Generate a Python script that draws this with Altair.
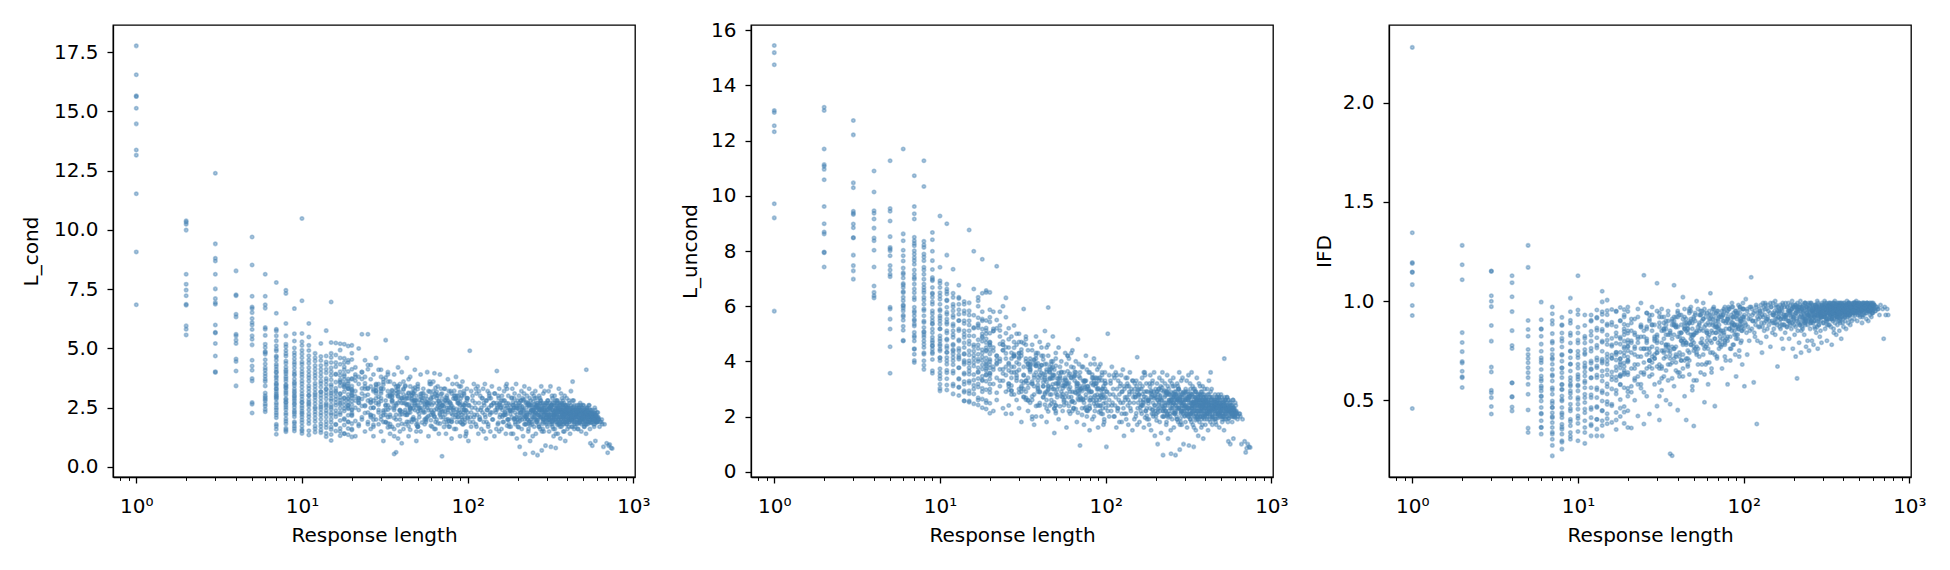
import altair as alt
import pandas as pd

# ---------------- data ----------------
# discrete columns: values at response length 1, 2, ..., 15
LC_COLS = [
    [17.76, 16.54, 15.65, 15.62, 15.13, 14.47, 13.37, 13.15, 11.52, 9.07, 6.84],
    [10.38, 10.32, 10.24, 9.99, 8.13, 7.71, 7.46, 7.22, 6.86, 6.82, 5.95, 5.81, 5.57],
    [12.39, 9.41, 8.80, 8.69, 8.13, 7.51, 7.10, 6.93, 6.86, 5.99, 5.68, 5.65, 5.21, 4.68, 4.02, 3.99],
    [8.27, 7.26, 7.22, 6.44, 6.33, 5.60, 5.53, 5.35, 5.21, 4.55, 4.45, 4.05, 3.42],
    [9.70, 8.52, 7.20, 6.75, 6.68, 6.51, 6.26, 6.09, 5.99, 5.80, 5.53, 5.39, 5.15, 4.50, 4.26, 4.08, 3.73, 3.63, 2.72, 2.65, 2.28],
    [8.13, 7.20, 6.84, 6.70, 5.88, 5.81, 5.55, 5.18, 4.83, 4.76, 4.34, 4.08, 3.94, 3.70, 3.42, 3.00, 2.86, 2.79, 2.43, 2.33],
    [7.78, 6.48, 5.81, 5.74, 5.53, 5.32, 5.11, 4.89, 4.68, 4.50, 4.33, 4.12, 3.98, 3.84, 3.66, 3.49, 3.28, 3.09, 2.92, 2.71, 2.50, 2.29, 2.08, 1.80, 1.59, 1.38, 3.02, 3.31, 2.62, 4.01],
    [7.45, 7.32, 6.05, 5.53, 5.18, 4.91, 4.68, 4.47, 4.21, 4.02, 3.81, 3.62, 3.43, 3.21, 3.04, 2.83, 2.61, 2.42, 2.19, 2.03, 1.82, 1.63, 1.49, 3.32, 2.71, 3.93],
    [6.68, 5.62, 5.31, 5.02, 4.71, 4.42, 4.18, 3.92, 3.71, 3.52, 3.29, 3.12, 2.88, 2.69, 2.51, 2.31, 2.12, 1.91, 1.72, 1.52],
    [10.48, 7.01, 5.63, 5.28, 4.92, 4.61, 4.33, 4.02, 3.79, 3.51, 3.22, 2.98, 2.71, 2.49, 2.22, 1.98, 1.72, 1.52, 1.41],
    [6.05, 5.48, 4.91, 4.52, 4.19, 3.88, 3.62, 3.31, 3.02, 2.73, 2.41, 2.12, 1.83, 1.35],
    [4.61, 4.28, 3.98, 3.72, 3.41, 3.12, 2.81, 2.52, 2.21, 1.92, 1.61],
    [5.21, 4.49, 4.12, 3.81, 3.52, 3.18, 2.91, 2.62, 2.29, 2.01, 1.71, 1.45],
    [5.75, 4.68, 4.31, 3.97, 3.62, 3.28, 3.01, 2.69, 2.38, 2.11, 1.79, 1.28],
    [6.96, 5.25, 4.79, 4.41, 4.02, 3.68, 3.39, 3.11, 2.79, 2.52, 2.19, 1.88, 1.58, 1.12],
]

LU_COLS = [
    [15.45, 15.19, 14.75, 13.09, 13.02, 12.54, 12.32, 9.71, 9.20, 5.82],
    [13.21, 13.09, 11.70, 11.13, 11.07, 10.96, 10.58, 9.61, 8.99, 8.69, 8.62, 7.96, 7.94, 7.42],
    [12.73, 12.21, 10.47, 10.29, 9.44, 9.37, 9.32, 8.98, 8.84, 8.49, 8.47, 7.85, 7.47, 7.28, 6.98],
    [10.90, 10.14, 9.46, 9.37, 9.16, 8.83, 8.47, 8.37, 8.03, 7.42, 6.73, 6.50, 6.38, 6.30],
    [11.27, 9.54, 9.44, 9.09, 8.52, 8.13, 8.07, 8.01, 7.83, 7.47, 7.31, 7.16, 7.07, 5.96, 5.90, 5.53, 5.17, 4.53, 3.57],
    [11.70, 8.62, 8.37, 8.03, 7.83, 7.64, 7.21, 7.16, 6.82, 6.68, 6.53, 6.49, 6.32, 6.20, 6.01, 5.83, 5.67, 5.49, 5.13, 4.74],
    [10.73, 9.61, 9.35, 9.16, 8.50, 8.37, 8.19, 8.01, 7.89, 7.65, 7.52, 7.31, 7.16, 6.98, 6.80, 6.49, 6.32, 5.96, 5.83, 5.65, 5.47, 5.35, 5.05, 4.87, 4.74, 4.44, 4.26, 3.96],
    [11.27, 10.34, 8.35, 8.13, 7.89, 7.65, 7.41, 7.16, 6.98, 6.80, 6.68, 6.49, 6.32, 6.07, 5.90, 5.65, 5.41, 5.23, 5.05, 4.87, 4.74, 4.50, 4.26, 4.02, 3.71],
    [8.67, 8.41, 7.99, 7.65, 7.04, 6.92, 6.68, 6.44, 6.32, 6.07, 5.83, 5.59, 5.47, 5.35, 5.17, 4.87, 4.68, 4.56, 4.44, 4.28, 3.57],
    [9.27, 7.41, 6.92, 6.68, 6.49, 6.25, 6.07, 5.83, 5.65, 5.47, 5.35, 5.17, 4.93, 4.74, 4.56, 4.44, 4.14, 4.02, 3.59, 3.47, 3.17, 2.93],
    [8.99, 7.85, 6.80, 6.62, 6.44, 6.20, 5.96, 5.71, 5.53, 5.35, 5.11, 4.81, 4.56, 4.32, 4.14, 3.90, 3.59, 3.14],
    [7.34, 6.32, 6.07, 5.83, 5.59, 5.35, 5.11, 4.87, 4.62, 4.38, 4.14, 4.02, 3.65, 3.11],
    [6.76, 6.32, 6.07, 5.71, 5.47, 5.11, 4.74, 4.38, 4.14, 3.77, 3.35, 3.05],
    [6.07, 5.83, 5.47, 5.11, 4.87, 4.50, 4.26, 3.90, 3.53, 3.17, 2.93, 2.56],
    [8.76, 5.83, 5.47, 5.11, 4.74, 4.38, 4.02, 3.65, 3.29, 2.93, 2.56],
]

IFD_COLS = [
    [2.28, 1.345, 1.195, 1.19, 1.147, 1.145, 1.083, 0.978, 0.927, 0.458],
    [1.281, 1.183, 1.108, 0.841, 0.791, 0.745, 0.695, 0.688, 0.646, 0.618, 0.613, 0.564],
    [1.152, 1.150, 1.027, 0.999, 0.972, 0.877, 0.798, 0.667, 0.642, 0.550, 0.538, 0.513, 0.468, 0.430],
    [1.128, 1.093, 1.022, 0.947, 0.851, 0.776, 0.761, 0.588, 0.587, 0.518, 0.516, 0.466, 0.446],
    [1.281, 1.170, 0.902, 0.857, 0.823, 0.756, 0.731, 0.711, 0.689, 0.664, 0.639, 0.614, 0.580, 0.530, 0.451, 0.359, 0.337],
    [0.995, 0.906, 0.860, 0.823, 0.747, 0.714, 0.689, 0.655, 0.622, 0.597, 0.572, 0.547, 0.521, 0.496, 0.463, 0.430, 0.396, 0.362, 0.329],
    [0.970, 0.936, 0.884, 0.836, 0.789, 0.756, 0.731, 0.706, 0.681, 0.655, 0.622, 0.597, 0.563, 0.530, 0.496, 0.463, 0.437, 0.412, 0.387, 0.362, 0.329, 0.303, 0.219],
    [0.918, 0.881, 0.839, 0.798, 0.768, 0.731, 0.697, 0.664, 0.639, 0.614, 0.580, 0.555, 0.521, 0.496, 0.463, 0.437, 0.412, 0.379, 0.354, 0.329, 0.295, 0.253],
    [1.015, 0.946, 0.888, 0.839, 0.789, 0.747, 0.714, 0.681, 0.647, 0.614, 0.580, 0.547, 0.513, 0.480, 0.446, 0.404, 0.371, 0.337, 0.303],
    [1.128, 0.955, 0.839, 0.789, 0.747, 0.714, 0.681, 0.630, 0.605, 0.572, 0.547, 0.513, 0.480, 0.455, 0.421, 0.383, 0.295],
    [0.930, 0.823, 0.789, 0.756, 0.731, 0.689, 0.664, 0.622, 0.597, 0.563, 0.530, 0.488, 0.455, 0.396, 0.337, 0.282],
    [0.930, 0.898, 0.848, 0.798, 0.747, 0.697, 0.655, 0.614, 0.563, 0.513, 0.463, 0.412, 0.371, 0.320],
    [0.955, 0.914, 0.864, 0.815, 0.764, 0.714, 0.664, 0.614, 0.563, 0.513, 0.463, 0.404, 0.354, 0.320],
    [1.050, 0.996, 0.946, 0.898, 0.848, 0.798, 0.747, 0.697, 0.647, 0.597, 0.547, 0.496, 0.446, 0.396, 0.320],
    [1.005, 0.931, 0.884, 0.829, 0.781, 0.733, 0.681, 0.628, 0.583, 0.531, 0.479, 0.432, 0.381],
]

# extra points of the crowded columns at response length 6, 7, ..., 20
LC_EXTRA = [
    [2.57, 3.12, 3.61, 4.18, 4.52, 5.04, 2.93, 3.83, 4.87, 2.66],
    [2.41, 2.86, 3.18, 3.53, 3.77, 4.24, 4.63, 4.97, 1.72, 2.19, 3.42, 2.97],
    [1.56, 1.93, 2.28, 2.52, 2.88, 3.13, 3.47, 3.72, 4.09, 4.37, 4.78, 5.07, 2.74, 3.36],
    [1.62, 1.84, 2.23, 2.38, 2.63, 2.79, 3.02, 3.19, 3.43, 3.58, 3.87, 4.03, 4.32, 4.56, 4.83, 2.96],
    [1.58, 1.87, 2.11, 2.37, 2.58, 2.86, 3.08, 3.37, 3.63, 3.91, 4.17, 4.43, 4.77, 5.12, 2.29, 2.74],
    [1.53, 1.97, 2.24, 2.57, 2.84, 3.17, 3.43, 3.76, 4.03, 4.38, 4.69, 5.13, 2.66, 3.01],
    [1.47, 1.73, 2.06, 2.33, 2.67, 2.94, 3.27, 3.53, 3.86, 4.13, 4.47, 4.79, 2.46, 3.04],
    [1.56, 1.83, 2.17, 2.44, 2.76, 3.03, 3.37, 3.63, 3.97, 4.28, 4.66, 2.53, 3.16],
    [1.42, 1.66, 1.93, 2.27, 2.53, 2.87, 3.13, 3.47, 3.73, 4.12, 4.43, 2.61, 3.29],
    [1.37, 1.69, 2.02, 2.28, 2.62, 2.88, 3.22, 3.48, 3.86, 4.18, 4.62, 2.44, 3.02],
    [1.52, 1.78, 2.12, 2.38, 2.72, 2.98, 3.32, 3.58, 3.92, 4.23, 4.72, 5.23, 2.86, 2.24, 3.14],
    [1.32, 1.63, 1.96, 2.21, 2.48, 2.82, 3.08, 3.42, 3.68, 4.02, 4.33, 4.93, 2.64, 2.93, 3.56],
    [1.41, 1.77, 2.04, 2.36, 2.61, 2.92, 3.18, 3.52, 3.83, 4.22, 4.58, 5.18, 2.76, 2.47, 3.36],
    [1.36, 1.62, 1.91, 2.18, 2.46, 2.73, 3.06, 3.33, 3.71, 4.03, 4.41, 2.58, 2.87, 3.52],
    [1.27, 1.56, 1.83, 2.16, 2.43, 2.77, 3.04, 3.41, 3.73, 4.12, 4.53, 5.13, 2.91, 2.62, 3.24],
]

LU_EXTRA = [
    [4.76, 5.27, 5.62, 6.04, 6.77, 7.38, 7.02, 5.93],
    [4.03, 4.46, 4.93, 5.28, 5.77, 6.23, 6.62, 7.04, 7.76, 8.27, 5.52],
    [3.86, 4.31, 4.62, 5.08, 5.46, 5.84, 6.22, 6.58, 7.31, 7.78, 8.22, 4.96],
    [3.66, 4.07, 4.33, 4.76, 5.04, 5.37, 5.73, 6.16, 6.48, 6.97, 7.33, 4.57],
    [3.02, 3.36, 3.73, 4.12, 4.38, 4.82, 5.18, 5.57, 5.88, 6.37, 6.83, 4.62],
    [2.96, 3.37, 3.68, 4.02, 4.33, 4.77, 5.03, 5.42, 5.78, 6.22, 6.53, 4.48],
    [2.82, 3.18, 3.57, 3.88, 4.27, 4.58, 4.97, 5.28, 5.67, 5.98, 6.47, 4.42],
    [2.76, 3.07, 3.38, 3.77, 4.08, 4.47, 4.78, 5.17, 5.48, 5.87, 6.28, 4.22],
    [2.57, 2.88, 3.27, 3.58, 3.97, 4.28, 4.67, 4.98, 5.37, 5.73, 6.17, 4.03],
    [2.52, 2.83, 3.22, 3.53, 3.92, 4.23, 4.62, 4.93, 5.32, 5.68, 6.12, 3.77],
    [2.46, 2.82, 3.13, 3.52, 3.83, 4.22, 4.53, 4.92, 5.23, 5.67, 6.62, 3.96, 3.32, 4.37],
    [2.42, 2.68, 3.07, 3.38, 3.77, 4.08, 4.47, 4.78, 5.22, 5.58, 6.32, 3.62, 4.26, 3.18],
    [2.32, 2.63, 3.02, 3.33, 3.72, 4.03, 4.42, 4.73, 5.17, 5.53, 6.47, 3.87, 3.46, 4.16],
    [2.27, 2.58, 2.97, 3.28, 3.67, 3.98, 4.37, 4.68, 5.12, 5.48, 6.57, 3.52, 4.12, 3.83],
    [2.12, 2.48, 2.87, 3.18, 3.57, 3.88, 4.27, 4.58, 5.02, 5.43, 5.87, 3.76, 3.36, 4.07],
]

IFD_EXTRA = [
    [0.363, 0.434, 0.518, 0.607, 0.702, 0.783, 0.858, 0.562],
    [0.272, 0.338, 0.417, 0.484, 0.553, 0.628, 0.713, 0.797, 0.902, 0.463],
    [0.288, 0.364, 0.428, 0.503, 0.578, 0.662, 0.727, 0.812, 0.877, 0.553],
    [0.318, 0.392, 0.458, 0.534, 0.598, 0.683, 0.748, 0.826, 0.903, 0.572],
    [0.342, 0.408, 0.503, 0.577, 0.662, 0.728, 0.803, 0.868, 0.932, 0.618],
    [0.362, 0.437, 0.512, 0.588, 0.673, 0.738, 0.812, 0.877, 0.642],
    [0.378, 0.453, 0.527, 0.612, 0.687, 0.762, 0.828, 0.903, 0.658],
    [0.403, 0.468, 0.553, 0.627, 0.702, 0.777, 0.853, 0.918, 0.673],
    [0.372, 0.448, 0.538, 0.622, 0.707, 0.792, 0.858, 0.933, 0.688],
    [0.407, 0.493, 0.568, 0.652, 0.717, 0.803, 0.877, 0.952, 0.698],
    [0.388, 0.472, 0.557, 0.642, 0.728, 0.812, 0.893, 0.958, 0.713, 0.772, 0.603],
    [0.352, 0.438, 0.532, 0.617, 0.703, 0.787, 0.872, 0.947, 0.742, 0.668, 0.823],
    [0.418, 0.503, 0.578, 0.663, 0.742, 0.817, 0.902, 0.968, 0.708, 0.783, 0.623],
    [0.383, 0.468, 0.563, 0.638, 0.723, 0.798, 0.883, 0.957, 0.762, 0.688, 0.847],
    [0.362, 0.447, 0.543, 0.628, 0.718, 0.803, 0.878, 0.948, 0.773, 0.693, 0.838],
]

# continuous cloud, part 1: response lengths shared by the three panels
CLOUD_X = [
    16, 16, 16, 16, 17, 17, 17, 17, 17, 18, 18, 18, 18, 18, 19, 19, 19, 19, 19, 20, 20, 20, 20, 20, 21,
    21, 21, 21, 22, 22, 22, 22, 22, 23, 23, 23, 23, 24, 24, 24, 24, 25, 25, 25, 25, 25, 16, 17, 19, 21,
    26, 26, 26, 26, 27, 27, 27, 27, 28, 28, 28, 28, 29, 29, 29, 30, 30, 30, 30, 31, 31, 31, 32, 32, 32,
    33, 33, 33, 34, 34, 34, 35, 35, 35, 36, 36, 36, 37, 37, 37, 38, 38, 38, 39, 39, 40, 40, 40, 27, 33,
    41, 41, 42, 42, 43, 43, 44, 44, 45, 45, 46, 46, 47, 47, 48, 48, 49, 49, 50, 50, 51, 52, 52, 53, 54,
    54, 55, 56, 57, 57, 58, 59, 60, 60, 61, 62, 63, 63, 64, 65, 66, 67, 67, 68, 69, 70, 70, 44, 50, 58,
    71, 72, 73, 73, 74, 75, 76, 76, 77, 78, 79, 80, 80, 81, 82, 83, 84, 85, 85, 86, 87, 88, 89, 90, 90,
    91, 92, 93, 94, 95, 95, 96, 97, 98, 99, 100, 100, 101, 102, 103, 104, 105, 105, 106, 107, 108, 109, 110, 88, 97,
    111, 112, 113, 114, 115, 116, 117, 118, 119, 120, 121, 122, 123, 124, 125, 126, 127, 128, 129, 130,
    131, 132, 133, 134, 135, 136, 137, 138, 139, 140, 142, 144, 145, 146, 148, 150, 151, 152, 154, 155,
    156, 158, 160, 161, 162, 164, 165, 166, 168, 170, 171, 172, 174, 175, 176, 178, 180,
    112, 118, 125, 130, 135, 140, 145, 150, 155, 160, 165, 170, 175,
    181, 182, 184, 185, 186, 188, 189, 190, 192, 193, 194, 195, 196, 198, 199, 200,
    202, 204, 205, 206, 208, 210, 211, 212, 214, 215, 216, 218, 220, 221,
    222, 224, 225, 226, 228, 230, 232, 234, 235, 236, 238, 240, 242, 244, 245,
    246, 248, 250, 252, 254, 255, 256, 258, 260, 262, 264, 265, 266, 268, 270,
    272, 274, 275, 276, 278, 280, 282, 284, 285, 286, 288, 290, 292, 295, 298, 300,
    190, 200, 210, 220, 230, 240, 250, 260, 270, 280, 290, 205, 235, 265,
    301, 303, 305, 306, 308, 310, 312, 314, 315, 316, 318, 320, 322, 324, 325,
    326, 328, 330, 332, 334, 335, 336, 338, 340, 342, 344, 345, 346, 348, 350,
    352, 354, 355, 356, 358, 360, 362, 364, 365, 366, 368, 370, 372, 374, 375,
    376, 378, 380, 382, 384, 385, 386, 388, 390, 392, 394, 395, 396, 398, 400,
    404, 408, 410, 412, 415, 418, 420, 424, 428, 430, 432, 435, 438, 440, 445,
    310, 320, 330, 340, 350, 360, 370, 380, 390, 400, 410, 420, 430, 440, 450,
    452, 455, 458, 460, 462, 465, 468, 470, 472, 475, 478, 480, 485, 488, 490,
    492, 495, 498, 500, 505, 508, 510, 515, 518, 520, 525, 528, 530, 535, 540,
    545, 548, 550, 555, 560, 565, 570, 575, 580, 585, 590, 595, 600, 610, 620,
    460, 480, 500, 520, 540, 560, 580, 600, 470, 530,
    630, 645, 660, 670, 690, 700, 710, 720, 735, 745,
]

LC_CLOUD = [
    3.9, 2.6, 1.8, 4.4, 5.2, 3.1, 2.3, 1.5, 3.6, 4.1, 2.9, 2.0, 3.4, 1.4, 5.1, 3.3, 2.5, 1.9, 4.5, 3.0, 2.2, 4.8, 1.6, 3.7, 2.8,
    4.2, 1.3, 3.2, 3.5, 2.4, 5.0, 1.8, 2.9, 5.6, 3.1, 2.0, 4.0, 2.6, 3.8, 1.5, 4.5, 5.6, 2.3, 3.3, 1.9, 2.8, 3.2, 2.7, 2.9, 3.8,
    3.4, 2.2, 4.3, 1.6, 2.8, 3.9, 1.3, 2.5, 3.1, 2.0, 4.6, 2.7, 1.8, 3.5, 2.4, 2.9, 4.1, 1.5, 3.3, 2.3, 3.7, 1.1, 5.35, 2.6, 1.9,
    3.0, 2.1, 4.0, 2.5, 3.6, 1.4, 2.8, 1.7, 3.2, 0.55, 2.4, 3.9, 2.0, 0.62, 3.1, 4.2, 2.7, 1.2, 3.5, 2.2, 1.0, 2.9, 4.0, 3.2, 2.6,
    2.7, 1.6, 3.4, 2.2, 4.6, 2.9, 1.3, 3.1, 2.5, 3.8, 1.9, 2.8, 3.3, 2.0, 2.4, 4.1, 1.1, 3.0, 2.6, 3.5, 2.1, 3.9, 1.5, 2.8, 2.3,
    3.3, 1.8, 3.0, 2.5, 4.0, 1.3, 3.6, 2.2, 2.9, 1.7, 3.2, 2.4, 3.95, 1.9, 2.7, 3.4, 1.4, 2.6, 3.9, 2.1, 0.45, 2.9, 2.3, 1.7, 2.7,
    2.6, 1.9, 3.3, 2.2, 1.4, 2.9, 3.7, 2.4, 1.7, 2.7, 3.2, 2.0, 1.2, 3.5, 2.5, 1.6, 3.0, 2.3, 3.8, 1.9, 2.8, 2.1, 3.4, 1.3, 2.6,
    2.9, 2.2, 3.6, 1.8, 2.4, 3.1, 2.0, 2.7, 1.5, 3.3, 2.3, 2.9, 1.1, 2.6, 4.9, 2.1, 3.2, 1.7, 2.5, 2.8, 1.9, 3.5, 2.2, 3.0, 2.4,
    2.5, 1.8, 3.1, 2.2, 3.4, 1.4, 2.7, 2.0, 3.0, 2.4, 1.6, 2.9, 2.3, 3.3, 1.9, 2.6, 3.5, 2.1, 1.2, 2.8,
    2.4, 3.2, 1.7, 2.5, 3.0, 2.2, 1.5, 2.9, 2.6, 3.4, 2.0, 2.7, 1.3, 3.1, 2.3, 4.05, 2.5, 1.8, 2.9, 3.3,
    2.1, 2.6, 1.6, 3.0, 2.4, 2.8, 1.9, 3.2, 2.2, 1.4, 2.7, 3.5, 2.0, 2.5, 3.0, 1.7, 2.4,
    3.3, 2.1, 2.7, 1.9, 2.9, 2.3, 3.1, 2.6, 1.5, 2.8, 2.2, 3.4, 2.0,
    2.4, 1.7, 2.9, 2.1, 3.3, 1.4, 2.6, 2.0, 3.1, 2.3, 1.8, 2.7, 3.5, 1.2, 2.2, 2.8,
    1.9, 3.0, 2.4, 0.85, 2.6, 2.1, 3.2, 1.6, 2.5, 2.9, 1.3, 2.2, 3.4, 2.0,
    0.55, 2.7, 1.8, 2.3, 3.0, 2.0, 1.5, 2.6, 3.3, 2.2, 1.1, 2.8, 2.4, 1.9, 3.1,
    2.1, 0.6, 2.5, 1.7, 2.9, 2.3, 3.2, 1.4, 2.6, 2.0, 0.5, 2.7, 2.2, 1.8, 3.0,
    2.4, 1.6, 2.8, 2.1, 3.4, 0.7, 2.5, 1.9, 2.3, 3.1, 1.5, 2.6, 2.0, 0.9, 2.7, 2.2,
    2.5, 2.0, 2.8, 1.8, 2.3, 2.6, 2.1, 2.9, 1.7, 2.4, 2.2, 2.7, 1.9, 2.5,
    2.3, 1.7, 2.8, 2.0, 3.2, 1.5, 2.5, 1.9, 2.2, 3.4, 0.85, 2.6, 2.1, 1.8, 2.9,
    2.4, 2.0, 1.3, 2.7, 2.2, 3.0, 1.6, 2.4, 0.8, 2.1, 2.6, 1.9, 2.3, 2.8, 1.4,
    2.0, 2.5, 3.3, 1.8, 2.2, 2.7, 1.2, 2.4, 2.0, 3.1, 1.7, 2.3, 2.6, 1.9, 2.1,
    2.8, 1.5, 2.2, 2.5, 1.9, 3.0, 2.3, 1.1, 2.6, 2.0, 2.4, 1.8, 2.9, 2.2, 1.6,
    2.5, 2.1, 1.9, 2.7, 1.4, 2.3, 3.2, 2.0, 1.7, 3.6, 2.4, 2.1, 1.9, 2.6, 2.2,
    2.0, 2.6, 2.2, 1.9, 2.4, 2.1, 2.7, 1.8, 2.3, 2.5, 2.0, 2.2, 2.8, 1.6, 2.3,
    2.2, 1.8, 2.5, 2.0, 2.3, 1.6, 2.6, 2.1, 1.9, 2.4, 2.7, 2.0, 1.5, 2.3, 2.1,
    2.5, 1.9, 2.2, 2.6, 1.7, 2.4, 2.0, 2.3, 1.4, 4.1, 2.1, 2.5, 1.8, 2.2, 2.6,
    1.9, 2.3, 1.0, 2.1, 2.4, 0.9, 2.0, 2.2, 1.7, 2.5, 1.1, 2.1, 1.9, 2.3, 2.0,
    2.4, 2.0, 2.2, 1.8, 2.6, 2.1, 2.3, 1.9, 2.5, 2.2,
    1.9, 2.0, 0.85, 1.8, 1.0, 0.6, 0.9, 0.95, 0.8, 0.78,
]

LU_CLOUD = [
    5.2, 4.1, 3.0, 7.99, 6.0, 4.6, 3.6, 2.6, 5.3, 7.7, 4.9, 3.3, 4.3, 2.9, 6.5, 5.0, 3.9, 2.5, 4.4, 6.5, 4.0, 5.6, 3.0, 4.7, 3.7,
    5.8, 2.2, 4.5, 7.45, 3.4, 5.5, 2.6, 4.2, 5.8, 4.0, 3.1, 4.9, 3.3, 6.0, 2.3, 4.6, 6.3, 3.5, 4.1, 2.1, 3.8, 4.6, 4.0, 3.5, 5.1,
    4.5, 3.2, 5.2, 2.4, 3.8, 4.9, 2.1, 3.4, 4.2, 2.8, 5.3, 3.6, 2.6, 4.6, 3.3, 3.9, 5.0, 2.3, 4.3, 3.1, 4.7, 1.8, 5.9, 3.5, 2.7,
    4.0, 2.9, 4.8, 3.4, 4.4, 2.2, 3.7, 2.5, 4.1, 1.9, 3.2, 4.6, 2.8, 1.7, 3.9, 4.9, 3.6, 2.0, 4.3, 3.0, 2.4, 3.8, 4.7, 4.1, 3.3,
    3.4, 2.0, 4.2, 2.7, 5.1, 3.5, 1.8, 3.9, 5.95, 4.6, 2.4, 3.6, 4.0, 2.6, 3.0, 4.9, 1.4, 3.7, 3.2, 4.3, 2.7, 4.5, 1.9, 3.4, 2.9,
    4.0, 2.2, 3.6, 3.1, 4.3, 1.6, 4.2, 2.7, 3.5, 2.1, 3.8, 2.9, 4.4, 2.3, 3.3, 4.0, 1.8, 3.1, 4.8, 2.6, 0.95, 3.4, 2.9, 2.2, 3.3,
    3.0, 2.3, 3.8, 2.6, 1.7, 3.3, 4.2, 2.8, 2.0, 3.1, 3.6, 2.4, 1.5, 3.9, 2.9, 1.9, 3.4, 2.7, 4.1, 2.2, 3.2, 2.5, 3.7, 1.6, 3.0,
    3.3, 2.6, 3.9, 2.1, 2.8, 3.5, 2.3, 3.1, 1.8, 3.6, 2.7, 3.2, 0.9, 2.9, 5.0, 2.4, 3.5, 2.0, 2.8, 3.2, 2.2, 3.8, 2.5, 3.4, 2.8,
    2.8, 2.0, 3.4, 2.4, 3.6, 1.6, 3.0, 2.2, 3.3, 2.6, 1.8, 3.1, 2.5, 3.5, 2.1, 2.9, 3.7, 2.3, 1.3, 3.0,
    2.6, 3.4, 1.9, 2.7, 3.2, 2.4, 1.7, 3.1, 2.8, 3.6, 2.2, 2.9, 1.5, 3.3, 2.5, 3.2, 2.7, 2.0, 3.1, 4.15,
    2.3, 2.8, 1.8, 3.2, 2.6, 3.0, 2.1, 3.4, 2.4, 1.6, 2.9, 3.6, 2.2, 2.7, 3.2, 1.9, 2.6,
    3.5, 2.3, 2.9, 2.1, 3.1, 2.5, 3.3, 2.8, 1.7, 3.0, 2.4, 3.6, 2.2,
    2.6, 1.9, 3.2, 2.3, 3.5, 1.5, 2.9, 2.1, 3.3, 2.5, 2.0, 2.9, 3.6, 1.3, 2.4, 3.0,
    2.1, 3.2, 2.6, 1.0, 2.8, 2.3, 3.4, 1.8, 2.7, 3.1, 1.4, 2.4, 3.6, 2.2,
    0.6, 2.9, 2.0, 2.5, 3.2, 2.2, 1.7, 2.8, 3.5, 2.4, 1.2, 3.0, 2.6, 2.1, 3.3,
    2.3, 0.65, 2.7, 1.9, 3.1, 2.5, 3.4, 1.6, 2.8, 2.2, 0.6, 2.9, 2.4, 2.0, 3.2,
    2.6, 1.8, 3.0, 2.3, 3.6, 0.8, 2.7, 2.1, 2.5, 3.3, 1.7, 2.8, 2.2, 1.0, 2.9, 2.4,
    2.7, 2.2, 3.0, 2.0, 2.5, 2.8, 2.3, 3.1, 1.9, 2.6, 2.4, 2.9, 2.1, 2.7,
    2.4, 1.8, 2.9, 2.1, 3.3, 1.6, 2.6, 2.0, 2.3, 3.5, 0.95, 2.7, 2.2, 1.9, 3.0,
    2.5, 2.1, 3.6, 2.8, 2.3, 3.1, 1.7, 2.5, 0.9, 2.2, 2.7, 2.0, 2.4, 2.9, 1.5,
    2.1, 2.6, 3.4, 1.9, 2.3, 2.8, 1.3, 2.5, 2.1, 3.2, 1.8, 2.4, 2.7, 2.0, 2.2,
    2.9, 1.6, 2.3, 2.6, 2.0, 3.1, 2.4, 1.2, 2.7, 2.1, 2.5, 1.9, 3.0, 2.3, 1.7,
    2.6, 2.2, 2.0, 2.8, 1.5, 2.4, 3.3, 2.1, 1.8, 3.6, 2.5, 2.2, 2.0, 2.7, 2.3,
    2.1, 2.7, 2.3, 2.0, 2.5, 2.2, 2.8, 1.9, 2.4, 2.6, 2.1, 2.3, 2.9, 1.7, 2.4,
    2.3, 1.9, 2.6, 2.1, 2.4, 1.7, 2.7, 2.2, 2.0, 2.5, 2.8, 2.1, 1.6, 2.4, 2.2,
    2.6, 2.0, 2.3, 2.7, 1.8, 2.5, 2.1, 2.4, 1.5, 4.1, 2.2, 2.6, 1.9, 2.3, 2.7,
    2.0, 2.4, 1.1, 2.2, 2.5, 1.0, 2.1, 2.3, 1.8, 2.6, 1.2, 2.2, 2.0, 2.4, 2.1,
    2.5, 2.1, 2.3, 1.9, 2.7, 2.2, 2.4, 2.0, 2.6, 2.3,
    2.0, 2.1, 1.0, 1.9, 1.1, 0.7, 0.85, 1.0, 0.9, 0.88,
]

IFD_CLOUD = [
    0.78, 0.62, 0.48, 0.88, 0.95, 0.74, 0.55, 0.40, 0.84, 0.69, 0.81, 0.58, 0.90, 0.46, 0.92, 0.77, 0.63, 0.44, 0.86, 0.85, 0.70, 0.97, 0.52, 0.75, 0.80,
    0.66, 0.36, 0.89, 0.73, 0.91, 0.60, 0.50, 0.83, 0.96, 0.68, 0.42, 0.79, 0.87, 0.72, 0.56, 0.99, 1.13, 0.64, 0.82, 0.38, 0.76, 0.71, 0.65, 0.93, 0.54,
    0.80, 0.66, 0.94, 0.52, 0.74, 0.90, 0.43, 0.70, 0.77, 0.63, 0.97, 0.85, 0.58, 0.88, 0.71, 0.79, 1.09, 0.47, 0.83, 0.68, 0.92, 0.40, 0.96, 0.75, 0.55,
    0.81, 0.62, 0.89, 0.72, 0.86, 0.50, 0.78, 0.60, 0.93, 0.23, 0.73, 0.84, 0.22, 0.69, 0.91, 1.08, 0.76, 0.57, 0.87, 0.65, 0.45, 0.82, 0.98, 0.76, 0.71,
    0.82, 0.62, 0.88, 0.70, 1.02, 0.79, 0.52, 0.86, 0.40, 0.91, 0.67, 0.84, 0.94, 0.74, 0.81, 0.97, 0.55, 0.89, 0.37, 0.83, 0.76, 1.00, 0.60, 0.87, 0.72,
    0.93, 0.64, 0.90, 0.78, 0.99, 0.49, 0.92, 0.69, 0.85, 0.58, 0.95, 0.80, 1.04, 0.66, 0.88, 0.96, 0.73, 0.47, 0.84, 0.71, 0.91, 0.79, 0.86, 0.77, 0.63,
    0.88, 0.80, 0.93, 0.77, 0.66, 0.90, 0.96, 0.84, 0.72, 0.89, 0.94, 0.82, 0.58, 0.97, 0.86, 0.70, 0.91, 0.85, 0.99, 0.78, 0.92, 0.83, 0.95, 0.62, 0.87,
    0.93, 0.81, 0.98, 0.75, 0.88, 0.94, 0.79, 0.90, 0.68, 0.96, 0.86, 0.92, 0.57, 0.89, 1.01, 0.84, 0.95, 0.73, 0.87, 0.93, 0.80, 0.97, 0.91, 0.88, 0.85,
    1.12, 0.86, 0.93, 0.90, 0.59, 0.84, 0.95, 0.88, 0.97, 0.38, 0.80, 0.94, 0.91, 0.96, 0.87, 0.92, 0.98, 0.89, 0.74, 0.95,
    0.92, 0.97, 0.85, 0.93, 0.99, 0.90, 0.82, 0.96, 0.91, 0.98, 0.88, 0.94, 0.77, 0.97, 0.90, 0.99, 0.93, 0.86, 0.95, 1.00,
    0.89, 0.94, 0.67, 0.97, 0.92, 0.96, 0.87, 0.98, 0.91, 0.81, 0.95, 0.99, 0.88, 0.93, 0.97, 0.84, 0.92,
    0.96, 0.90, 0.94, 0.87, 0.98, 0.92, 0.99, 0.93, 0.83, 0.95, 0.89, 0.97, 0.91,
    0.93, 0.87, 0.97, 0.90, 0.99, 0.81, 0.95, 0.89, 0.98, 0.92, 0.86, 0.96, 1.00, 0.76, 0.91, 0.97,
    0.88, 0.98, 0.94, 0.72, 0.95, 0.61, 0.99, 0.85, 0.93, 0.97, 0.79, 0.91, 1.00, 0.89,
    0.74, 0.96, 0.87, 0.92, 0.98, 0.90, 0.83, 0.95, 0.99, 0.91, 0.77, 0.97, 0.93, 0.88, 0.98,
    0.90, 0.75, 0.94, 0.86, 0.97, 0.92, 0.99, 0.80, 0.95, 0.89, 0.78, 0.96, 0.92, 0.87, 0.98,
    0.93, 0.84, 0.97, 0.90, 1.00, 0.76, 0.95, 0.88, 0.92, 0.98, 0.82, 0.96, 0.90, 0.79, 0.97, 0.93,
    0.95, 0.90, 0.97, 0.88, 0.93, 0.96, 0.91, 0.98, 0.86, 0.94, 0.92, 0.97, 0.89, 0.95,
    0.95, 0.89, 0.98, 0.92, 1.00, 0.86, 0.96, 0.90, 0.94, 0.99, 0.80, 0.97, 0.93, 0.88, 0.98,
    0.95, 0.91, 0.99, 0.97, 0.93, 0.98, 0.87, 0.95, 0.78, 0.92, 0.97, 0.90, 0.94, 0.99, 0.84,
    0.91, 0.96, 1.00, 0.89, 0.94, 0.98, 0.83, 0.95, 0.92, 0.99, 0.88, 0.95, 0.97, 0.90, 0.93,
    0.98, 0.85, 0.94, 0.96, 0.91, 0.99, 0.95, 0.81, 0.97, 0.92, 0.95, 0.89, 0.98, 0.94, 0.87,
    0.96, 0.92, 0.90, 0.98, 0.86, 0.95, 1.00, 0.93, 0.89, 0.99, 0.96, 0.93, 0.91, 0.97, 0.94,
    0.93, 0.97, 0.95, 0.91, 0.96, 0.94, 0.98, 0.90, 0.95, 0.97, 0.92, 0.94, 0.99, 0.88, 0.96,
    0.96, 0.93, 0.98, 0.95, 0.97, 0.91, 0.99, 0.96, 0.94, 0.97, 1.00, 0.95, 0.90, 0.97, 0.96,
    0.98, 0.94, 0.96, 0.99, 0.92, 0.97, 0.95, 0.98, 0.89, 0.97, 0.96, 0.99, 0.93, 0.97, 0.98,
    0.94, 0.97, 0.91, 0.96, 0.98, 0.90, 0.95, 0.97, 0.93, 0.99, 0.92, 0.96, 0.94, 0.98, 0.95,
    0.97, 0.95, 0.96, 0.93, 0.98, 0.96, 0.97, 0.94, 0.99, 0.96,
    0.97, 0.96, 0.93, 0.98, 0.96, 0.81, 0.97, 0.93, 0.96, 0.93,
]

# continuous cloud, part 2
CLOUD2_X = [
    20, 21, 22, 23, 24, 25, 26, 27, 28, 29, 30, 31, 32, 33, 34, 35, 36, 37, 38, 39,
    40, 41, 42, 43, 44, 45, 46, 47, 48, 49, 50, 52, 54, 56, 58, 60, 62, 64, 66, 68,
    70, 72, 74, 76, 78, 80, 82, 84, 86, 88, 90, 92, 94, 96, 98, 99, 18, 19, 20, 21,
    22, 23, 24, 25, 26, 27, 28, 29, 30, 31, 32, 33, 34, 35, 36, 37, 38, 39, 40, 41,
    42, 43, 44, 45, 46, 47, 48, 49, 50, 51, 53, 55, 57, 59, 61, 63, 65, 67, 69, 71,
    73, 75, 77, 79, 81, 83, 85, 87, 89, 91, 93, 95, 97, 99, 17, 18, 22, 24, 26, 28,
    30, 32, 34, 36, 38, 42, 46, 50, 55, 60, 65, 70, 75, 80, 85, 90, 95, 100, 48, 52,
    33, 39, 44, 57, 62, 68, 77, 86, 93, 58,
    101, 103, 105, 107, 109, 111, 113, 115, 117, 119, 121, 123, 125, 127, 129, 131, 133, 135, 137, 139,
    141, 143, 147, 149, 153, 157, 159, 163, 167, 169, 173, 177, 179, 183, 187, 191, 197, 201, 203, 207,
    209, 213, 217, 219, 223, 227, 229, 231, 233, 237, 239, 241, 243, 247, 249, 251, 253, 257, 259, 261,
    263, 267, 269, 271, 273, 277, 279, 281, 283, 287, 289, 291, 293, 294, 296, 297, 299, 302, 304, 307,
    309, 311, 313, 317, 319, 321, 323, 327, 329, 331, 333, 337, 339, 341, 343, 347, 349, 351, 353, 357,
    359, 361, 363, 367, 369, 371, 373, 377, 379, 381, 383, 387, 389, 391, 393, 397, 399, 402, 406, 409,
    411, 414, 417, 419, 422, 426, 429, 433, 436, 439, 442, 447, 449, 453, 457, 461, 464, 467, 471, 474,
    477, 482, 486, 489, 494, 497, 502, 506, 512, 516, 522, 527, 533, 538, 543, 547, 552, 558, 563, 568,
    573, 578, 583, 588, 593, 598, 605, 615, 625, 640, 650, 235, 245, 255, 275, 285, 315, 325, 335, 345,
    355, 365, 375, 385, 395, 405, 415, 425, 435, 445, 455, 465, 475, 485, 495, 505, 515, 525, 535, 545,
    255, 262, 268, 276, 284, 292, 305, 318, 324, 338, 346, 354, 366, 374, 382, 392, 398, 408, 416, 424,
    432, 444, 458, 466, 478, 484, 496, 504, 514, 524, 536, 548, 556, 566, 576, 586, 596, 606, 150, 170,
    190, 210, 230, 250, 290, 330, 370, 410, 450, 490,
]

LC_CLOUD2 = [
    3.2, 2.5, 3.8, 2.1, 3.0, 4.3, 2.7, 1.7, 3.5, 2.3, 3.1, 1.9, 2.8, 3.6, 2.2, 3.0, 1.6, 2.6, 3.4, 2.0,
    2.9, 3.3, 1.8, 2.6, 3.7, 2.3, 2.0, 3.1, 2.7, 1.5, 3.4, 2.5, 2.9, 1.9, 3.2, 2.4, 2.7, 1.6, 3.0, 2.2,
    2.6, 3.3, 2.0, 2.8, 1.7, 3.1, 2.4, 2.1, 3.5, 2.7, 1.9, 3.0, 2.3, 2.6, 1.4, 2.9, 4.4, 3.3, 2.4, 3.9,
    2.9, 4.0, 3.4, 1.8, 3.7, 2.5, 3.2, 4.1, 2.0, 3.3, 2.6, 3.9, 1.7, 2.8, 3.5, 2.2, 3.0, 1.5, 2.7, 3.6,
    2.3, 3.0, 1.9, 3.4, 2.6, 2.1, 3.2, 2.8, 1.7, 2.5, 3.1, 2.0, 2.7, 3.5, 2.3, 1.6, 2.9, 2.4, 3.3, 2.1,
    2.8, 1.8, 3.2, 2.5, 2.2, 3.0, 1.6, 2.7, 2.4, 3.4, 2.0, 2.6, 1.3, 2.9, 4.6, 3.7, 2.7, 3.3, 2.1, 2.9,
    3.8, 2.2, 3.0, 1.3, 3.3, 2.4, 3.0, 1.8, 2.7, 3.5, 2.0, 3.1, 2.5, 1.9, 2.9, 2.3, 3.2, 2.1, 2.8, 2.4,
    3.2, 2.4, 2.9, 2.1, 3.6, 2.7, 2.5, 3.0, 1.8, 2.6,
    2.6, 1.9, 2.3, 3.0, 2.1, 2.7, 1.7, 2.4, 3.2, 2.0, 2.5, 2.9, 1.5, 2.2, 2.8, 2.4, 1.8, 3.1, 2.3, 2.6,
    2.0, 2.7, 2.4, 1.6, 3.0, 2.2, 2.5, 1.9, 2.8, 2.3, 3.3, 2.0, 2.6, 1.4, 2.4, 2.9, 2.1, 1.7, 2.6, 2.3,
    2.8, 2.0, 2.4, 3.1, 1.8, 2.5, 2.2, 2.7, 1.6, 2.9, 2.3, 2.0, 2.6, 1.3, 2.4, 3.0, 2.1, 2.5, 1.9, 2.7,
    2.2, 2.6, 1.7, 2.4, 2.9, 2.1, 2.3, 1.5, 2.7, 2.0, 2.5, 3.2, 1.9, 2.3, 2.6, 2.1, 1.8, 2.4, 2.8, 2.2,
    2.0, 2.5, 2.7, 1.8, 2.3, 2.1, 3.0, 2.4, 1.6, 2.6, 2.2, 2.0, 2.8, 1.4, 2.3, 2.5, 1.9, 2.7, 2.1, 2.4,
    2.2, 1.7, 2.6, 2.0, 2.4, 2.9, 1.9, 2.3, 2.1, 2.7, 1.5, 2.4, 2.2, 2.0, 2.6, 1.8, 2.3, 2.5, 2.1, 2.8,
    1.9, 2.4, 2.2, 2.6, 1.7, 2.3, 2.0, 2.5, 2.8, 2.1, 1.8, 2.4, 2.2, 2.0, 2.6, 1.6, 2.3, 2.1, 2.5, 1.9,
    2.2, 2.4, 1.8, 2.3, 2.0, 2.6, 2.1, 1.7, 2.4, 2.2, 2.5, 1.9, 2.3, 2.0, 2.2, 1.6, 2.4, 2.1, 1.9, 2.3,
    2.0, 2.2, 1.8, 2.4, 2.1, 1.9, 2.3, 2.0, 1.7, 1.9, 1.8, 2.6, 1.8, 2.3, 2.7, 2.0, 2.5, 1.7, 2.2, 2.8,
    1.8, 2.4, 2.1, 2.6, 1.9, 2.3, 2.0, 2.5, 2.2, 1.7, 2.4, 2.1, 1.9, 2.3, 2.0, 2.2, 1.8, 2.4, 2.1, 2.0,
    2.5, 1.9, 2.3, 2.8, 1.6, 2.4, 2.1, 2.6, 1.9, 2.2, 2.7, 2.0, 2.4, 1.8, 2.2, 2.5, 2.1, 1.7, 2.3, 2.0,
    2.4, 2.1, 1.9, 2.3, 2.0, 2.5, 2.2, 1.8, 2.3, 2.1, 1.9, 2.4, 2.0, 2.2, 1.8, 2.1, 2.0, 1.9, 2.7, 2.2,
    2.5, 2.3, 2.0, 2.4, 2.2, 2.1, 2.3, 2.0, 2.2, 2.1,
]

LU_CLOUD2 = [
    4.6, 3.8, 5.2, 3.3, 4.4, 5.6, 3.9, 2.8, 4.7, 3.4, 4.1, 2.9, 3.8, 4.6, 3.2, 3.9, 2.6, 3.5, 4.3, 2.9,
    3.7, 4.2, 2.7, 3.4, 4.5, 3.0, 2.8, 3.9, 3.5, 2.3, 4.1, 3.2, 3.6, 2.6, 3.9, 3.0, 3.4, 2.3, 3.6, 2.8,
    3.1, 3.8, 2.5, 3.3, 2.2, 3.6, 2.9, 2.6, 3.9, 3.2, 2.4, 3.4, 2.7, 3.0, 1.9, 3.3, 5.8, 4.5, 3.5, 5.1,
    4.2, 5.3, 4.6, 2.9, 4.8, 3.6, 4.2, 5.0, 3.0, 4.2, 3.5, 4.9, 2.6, 3.7, 4.4, 3.1, 3.9, 2.4, 3.5, 4.5,
    3.1, 3.9, 2.6, 4.2, 3.4, 2.8, 4.0, 3.5, 2.4, 3.2, 3.8, 2.7, 3.4, 4.2, 2.9, 2.2, 3.5, 3.0, 3.9, 2.6,
    3.3, 2.3, 3.7, 3.0, 2.6, 3.4, 2.0, 3.1, 2.8, 3.8, 2.4, 3.0, 1.7, 3.2, 6.2, 5.0, 3.9, 4.4, 3.1, 3.8,
    4.7, 3.0, 3.9, 2.0, 4.1, 3.1, 3.7, 2.4, 3.3, 4.1, 2.5, 3.6, 3.0, 2.3, 3.3, 2.7, 3.6, 2.5, 3.5, 3.1,
    4.1, 3.3, 3.7, 2.7, 4.3, 3.2, 3.0, 3.4, 2.2, 3.2,
    2.9, 2.2, 2.6, 3.3, 2.4, 3.0, 2.0, 2.7, 3.5, 2.3, 2.8, 3.2, 1.8, 2.5, 3.1, 2.7, 2.1, 3.4, 2.6, 2.9,
    2.3, 3.0, 2.7, 1.9, 3.3, 2.5, 2.8, 2.2, 3.1, 2.6, 3.5, 2.3, 2.9, 1.7, 2.7, 3.2, 2.4, 2.0, 2.9, 2.6,
    3.0, 2.2, 2.6, 3.3, 2.0, 2.7, 2.4, 2.9, 1.8, 3.1, 2.5, 2.2, 2.8, 1.5, 2.6, 3.2, 2.3, 2.7, 2.1, 2.9,
    2.4, 2.8, 1.9, 2.6, 3.1, 2.3, 2.5, 1.7, 2.9, 2.2, 2.7, 3.4, 2.1, 2.5, 2.8, 2.3, 2.0, 2.6, 3.0, 2.4,
    2.2, 2.7, 2.9, 2.0, 2.5, 2.3, 3.2, 2.6, 1.8, 2.8, 2.4, 2.2, 3.0, 1.6, 2.5, 2.7, 2.1, 2.9, 2.3, 2.6,
    2.4, 1.9, 2.8, 2.2, 2.6, 3.1, 2.1, 2.5, 2.3, 2.9, 1.7, 2.6, 2.4, 2.2, 2.8, 2.0, 2.5, 2.7, 2.3, 3.0,
    2.1, 2.6, 2.4, 2.8, 1.9, 2.5, 2.2, 2.7, 3.0, 2.3, 2.0, 2.6, 2.4, 2.2, 2.8, 1.8, 2.5, 2.3, 2.7, 2.1,
    2.4, 2.6, 2.0, 2.5, 2.2, 2.8, 2.3, 1.9, 2.6, 2.4, 2.7, 2.1, 2.5, 2.2, 2.4, 1.8, 2.6, 2.3, 2.1, 2.5,
    2.2, 2.4, 2.0, 2.6, 2.3, 2.1, 2.5, 2.2, 1.9, 2.1, 2.0, 2.9, 2.0, 2.5, 3.0, 2.2, 2.7, 1.9, 2.4, 3.0,
    2.0, 2.6, 2.3, 2.8, 2.1, 2.5, 2.2, 2.7, 2.4, 1.9, 2.6, 2.3, 2.1, 2.5, 2.2, 2.4, 2.0, 2.6, 2.3, 2.2,
    2.7, 2.1, 2.5, 3.0, 1.8, 2.6, 2.3, 2.8, 2.1, 2.4, 2.9, 2.2, 2.6, 2.0, 2.4, 2.7, 2.3, 1.9, 2.5, 2.2,
    2.6, 2.3, 2.1, 2.5, 2.2, 2.7, 2.4, 2.0, 2.5, 2.3, 2.1, 2.6, 2.2, 2.4, 2.0, 2.3, 2.2, 2.1, 3.0, 2.5,
    2.8, 2.5, 2.2, 2.6, 2.4, 2.3, 2.5, 2.2, 2.4, 2.3,
]

IFD_CLOUD2 = [
    0.70, 0.85, 0.61, 0.92, 0.76, 0.54, 0.81, 0.67, 0.88, 0.73, 0.95, 0.59, 0.79, 0.86, 0.65, 0.90, 0.48, 0.77, 0.83, 0.69,
    0.87, 0.74, 0.93, 0.62, 0.80, 0.89, 0.71, 0.96, 0.83, 0.57, 0.91, 0.77, 0.85, 0.68, 0.94, 0.80, 0.88, 0.64, 0.92, 0.84,
    0.90, 0.78, 0.95, 0.83, 0.70, 0.92, 0.86, 0.76, 0.97, 0.88, 0.81, 0.94, 0.72, 0.90, 0.85, 0.96, 0.63, 0.74, 0.56, 0.79,
    0.66, 0.82, 0.58, 0.76, 0.87, 0.62, 0.93, 0.71, 0.80, 0.52, 0.85, 0.75, 0.90, 0.68, 0.83, 0.61, 0.88, 0.77, 0.95, 0.72,
    0.84, 0.66, 0.92, 0.79, 0.88, 0.70, 0.95, 0.82, 0.60, 0.90, 0.76, 0.93, 0.85, 0.68, 0.89, 0.74, 0.96, 0.81, 0.87, 0.92,
    0.85, 0.93, 0.78, 0.90, 0.96, 0.82, 0.88, 0.94, 0.73, 0.91, 0.86, 0.97, 0.80, 0.92, 0.60, 0.68, 0.77, 0.64, 0.86, 0.72,
    0.82, 0.67, 0.88, 0.75, 0.92, 0.70, 0.86, 0.79, 0.93, 0.84, 0.89, 0.95, 0.81, 0.91, 0.87, 0.94, 0.90, 0.96, 0.78, 0.73,
    0.74, 0.88, 0.70, 0.91, 0.83, 0.94, 0.79, 0.92, 0.87, 0.76,
    0.93, 0.88, 0.96, 0.91, 0.85, 0.97, 0.90, 0.94, 0.82, 0.98, 0.92, 0.87, 0.95, 0.79, 0.93, 0.99, 0.89, 0.96, 0.91, 0.86,
    0.95, 0.90, 0.97, 0.84, 0.93, 0.98, 0.88, 0.94, 0.91, 0.96, 0.76, 0.92, 0.99, 0.87, 0.95, 0.93, 0.89, 0.97, 0.83, 0.94,
    0.91, 0.96, 0.88, 0.98, 0.93, 0.86, 0.95, 0.92, 0.99, 0.90, 0.97, 0.94, 0.80, 0.96, 0.92, 0.98, 0.89, 0.95, 0.93, 0.97,
    0.94, 0.90, 0.98, 0.92, 0.96, 0.87, 0.95, 0.99, 0.91, 0.97, 0.93, 0.85, 0.96, 0.94, 0.98, 0.92, 0.95, 0.89, 0.97, 0.93,
    0.96, 0.92, 0.98, 0.94, 0.90, 0.97, 0.95, 0.99, 0.88, 0.96, 0.93, 0.97, 0.91, 0.98, 0.94, 0.96, 0.86, 0.95, 0.99, 0.93,
    0.97, 0.94, 0.91, 0.98, 0.95, 0.92, 0.99, 0.96, 0.93, 0.97, 0.89, 0.95, 0.98, 0.94, 0.96, 0.91, 0.97, 0.95, 0.99, 0.93,
    0.96, 0.98, 0.94, 0.97, 0.92, 0.95, 0.99, 0.96, 0.93, 0.97, 0.95, 0.98, 0.90, 0.96, 0.94, 0.97, 0.99, 0.95, 0.93, 0.97,
    0.98, 0.95, 0.97, 0.93, 0.96, 0.99, 0.94, 0.97, 0.95, 0.98, 0.92, 0.96, 0.97, 0.99, 0.95, 0.97, 0.94, 0.98, 0.96, 0.97,
    0.97, 0.95, 0.98, 0.96, 0.94, 0.97, 0.99, 0.96, 0.95, 0.97, 0.96, 0.88, 0.93, 0.90, 0.96, 0.94, 0.91, 0.97, 0.93, 0.95,
    0.96, 0.92, 0.97, 0.94, 0.98, 0.95, 0.93, 0.97, 0.96, 0.94, 0.98, 0.95, 0.97, 0.96, 0.99, 0.97, 0.95, 0.98, 0.96, 0.97,
    0.90, 0.95, 0.92, 0.97, 0.88, 0.94, 0.96, 0.91, 0.98, 0.93, 0.95, 0.97, 0.92, 0.96, 0.94, 0.98, 0.93, 0.95, 0.97, 0.94,
    0.96, 0.98, 0.95, 0.97, 0.99, 0.96, 0.98, 0.97, 0.95, 0.98, 0.96, 0.97, 0.99, 0.96, 0.98, 0.97, 0.95, 0.98, 0.89, 0.92,
    0.94, 0.96, 0.91, 0.95, 0.93, 0.97, 0.94, 0.96, 0.95, 0.97,
]

# continuous cloud, part 3 (densest regions)
CLOUD3_X = [
    18, 19, 20, 21, 22, 23, 24, 25, 26, 27, 28, 29, 30, 31, 32, 33, 34, 35, 36, 37,
    38, 39, 40, 41, 42, 43, 44, 45, 46, 47, 48, 49, 50, 51, 52, 53, 54, 55, 56, 57,
    58, 59, 60, 61, 62, 63, 64, 65, 66, 67, 68, 69, 70, 72, 74, 76, 78, 80, 83, 86,
    89, 92, 95, 98, 19, 20, 21, 22, 23, 24, 25, 26, 27, 28, 29, 30, 31, 32, 33, 34,
    35, 36, 37, 38, 39, 40, 41, 42, 43, 44, 45, 46, 47, 48, 49, 50, 52, 54, 56, 58,
    60, 62, 64, 66, 68, 71, 73, 75, 77, 79, 81, 84, 87, 90, 93, 96, 99, 18, 20, 22,
    24, 26, 28, 30, 32, 34, 36, 38, 40, 42, 44, 46, 48, 50, 53, 56, 59, 62, 65, 68,
    71, 74, 77, 80, 85, 90, 95, 100, 21, 23, 25, 27, 29, 31, 33, 35, 37, 39, 41, 43,
    45, 47, 49, 51, 55, 57, 61, 63, 67, 69, 72, 76, 82, 88, 94, 97, 17, 19, 23, 27,
    31, 35, 39, 43, 47, 51, 55, 60, 65, 70, 75, 80, 85, 91, 26, 30, 34, 38, 45, 52,
    151, 153, 157, 162, 167, 173, 179, 185, 191, 196, 203, 209, 216, 223, 229, 236, 243, 249, 256, 263,
    269, 276, 283, 289, 297, 304, 311, 318, 326, 333, 341, 348, 356, 363, 371, 379, 387, 394, 402, 411,
    419, 427, 436, 444, 453, 462, 471, 481, 490, 501, 511, 521, 532, 543, 554, 566, 578, 590, 603, 615,
    155, 164, 171, 177, 183, 188, 193, 198, 206, 213, 219, 226, 233, 239, 246, 253, 259, 266, 273, 279,
    286, 293, 299, 306, 313, 321, 329, 336, 344, 351, 359, 367, 374, 382, 390, 398, 406, 415, 423, 432,
    440, 449, 458, 467, 476, 486, 496, 506, 516, 527, 538, 549, 561, 572, 584, 596, 608, 158, 168, 176,
    181, 187, 194, 201, 207, 214, 221, 227, 234, 241, 247, 254, 261, 267, 274, 281, 287, 295, 302, 309,
    316, 323, 331, 338, 346, 353, 361, 369, 377, 385, 392, 400, 409, 417, 425, 434, 442, 451, 460, 469,
    479, 488, 498, 508, 519, 529, 540, 552, 563, 575, 587, 599, 611, 199, 218, 238, 258, 278, 298, 318,
    338, 358, 378, 398, 418, 438, 458, 478, 498, 518, 538, 558, 578, 598, 225, 265, 305, 345, 385, 425,
]

LC_CLOUD3 = [
    3.47, 2.61, 3.12, 1.94, 2.83, 3.71, 2.28, 3.05, 2.49, 1.78, 3.36, 2.72, 2.14, 3.58, 2.41, 1.67, 2.96, 3.24, 2.07, 2.68,
    3.15, 2.36, 1.82, 2.91, 3.43, 2.19, 2.64, 1.57, 3.02, 2.47, 2.83, 1.96, 3.29, 2.25, 2.71, 1.88, 3.11, 2.53, 2.04, 2.86,
    2.39, 3.18, 1.74, 2.62, 2.95, 2.12, 3.34, 2.45, 1.85, 2.77, 2.26, 3.07, 2.58, 1.69, 2.93, 2.31, 2.74, 1.92, 3.21, 2.44,
    2.67, 2.09, 3.03, 2.38, 3.62, 2.27, 2.98, 1.73, 3.31, 2.56, 4.12, 2.84, 1.99, 3.46, 2.63, 3.19, 2.18, 3.77, 2.42, 1.81,
    3.08, 2.57, 3.39, 1.76, 2.81, 2.33, 3.26, 2.69, 1.91, 3.13, 2.46, 2.88, 2.02, 3.35, 2.59, 1.71, 2.97, 2.37, 2.76, 2.15,
    2.85, 2.21, 3.09, 2.54, 1.83, 2.73, 2.35, 3.01, 1.95, 2.66, 2.43, 2.89, 2.11, 3.16, 2.52, 1.87, 2.79, 3.91, 3.28, 2.71,
    3.53, 2.17, 3.22, 2.78, 1.89, 3.06, 2.48, 3.41, 2.23, 2.87, 1.72, 3.14, 2.61, 2.34, 2.92, 1.98, 2.69, 2.28, 3.17, 2.51,
    2.36, 2.82, 1.93, 2.58, 2.19, 2.74, 2.41, 2.05, 3.64, 2.87, 3.32, 2.15, 2.96, 3.48, 1.84, 2.73, 3.23, 2.39, 3.07, 2.64,
    2.49, 3.12, 1.79, 2.83, 2.31, 2.67, 3.04, 2.13, 2.78, 2.42, 2.55, 2.01, 2.89, 2.27, 2.62, 2.18, 3.86, 3.41, 2.57, 3.27,
    2.38, 2.94, 3.16, 2.21, 2.79, 2.46, 2.63, 1.97, 3.02, 2.32, 2.71, 2.26, 2.87, 1.88, 2.74, 3.33, 2.12, 2.97, 2.44, 3.08,
    2.43, 1.86, 2.71, 2.12, 2.58, 1.74, 2.36, 2.92, 2.05, 2.49, 1.68, 2.27, 2.81, 2.14, 2.62, 1.93, 2.39, 2.76, 2.01, 2.53,
    2.18, 2.67, 1.82, 2.44, 2.09, 2.57, 1.97, 2.31, 2.72, 2.06, 2.45, 1.78, 2.34, 2.63, 2.11, 2.48, 1.89, 2.26, 2.59, 2.03,
    2.37, 1.92, 2.54, 2.16, 2.41, 1.85, 2.29, 2.61, 2.07, 2.33, 1.95, 2.47, 2.13, 2.28, 1.88, 2.22, 2.04, 2.17, 1.91, 2.08,
    2.64, 2.19, 2.48, 1.81, 2.35, 2.73, 2.02, 2.56, 1.94, 2.42, 2.85, 2.11, 2.67, 1.76, 2.38, 2.23, 2.59, 1.98, 2.46, 2.15,
    2.32, 2.69, 1.87, 2.44, 2.14, 2.58, 1.96, 2.37, 2.21, 2.52, 1.84, 2.29, 2.63, 2.06, 2.41, 1.91, 2.26, 2.49, 2.12, 2.34,
    1.97, 2.43, 2.18, 2.31, 1.86, 2.25, 2.39, 2.04, 2.19, 2.36, 1.93, 2.27, 2.11, 2.22, 1.95, 2.14, 2.05, 2.52, 2.31, 2.68,
    2.24, 2.61, 1.89, 2.47, 2.07, 2.55, 2.16, 2.73, 1.83, 2.39, 2.28, 2.64, 1.96, 2.43, 2.12, 2.57, 2.01, 2.35, 2.69, 2.18,
    2.46, 1.92, 2.33, 2.58, 2.09, 2.41, 1.85, 2.27, 2.52, 2.14, 2.37, 1.98, 2.44, 2.21, 2.06, 2.32, 1.89, 2.25, 2.13, 2.38,
    2.02, 2.29, 2.16, 1.94, 2.34, 2.08, 2.23, 1.87, 2.19, 2.05, 2.27, 1.96, 2.11, 2.49, 2.36, 2.62, 2.28, 2.44, 2.17, 2.53,
    2.31, 2.47, 2.19, 2.38, 2.26, 2.12, 2.35, 2.21, 2.07, 2.29, 2.15, 2.24, 1.99, 2.18, 2.09, 2.56, 2.42, 2.33, 2.27, 2.14,
]

LU_CLOUD3 = [
    4.86, 3.74, 4.42, 3.18, 4.05, 5.12, 3.56, 4.29, 3.67, 2.94, 4.18, 3.49, 2.87, 4.31, 3.22, 2.61, 3.79, 3.98, 2.73, 3.41,
    3.83, 3.04, 2.49, 3.58, 4.07, 2.81, 3.26, 2.18, 3.62, 3.07, 3.39, 2.52, 3.84, 2.79, 3.24, 2.37, 3.61, 3.02, 2.54, 3.33,
    2.83, 3.64, 2.19, 3.06, 3.41, 2.55, 3.78, 2.88, 2.27, 3.17, 2.64, 3.46, 2.96, 2.06, 3.29, 2.68, 3.09, 2.28, 3.52, 2.76,
    2.98, 2.39, 3.31, 2.66, 5.21, 3.57, 4.38, 2.86, 4.63, 3.71, 5.02, 3.94, 2.93, 4.49, 3.62, 4.15, 3.03, 4.66, 3.29, 2.58,
    3.85, 3.27, 4.04, 2.38, 3.43, 2.91, 3.86, 3.24, 2.43, 3.62, 2.95, 3.36, 2.46, 3.78, 2.99, 2.12, 3.37, 2.74, 3.12, 2.49,
    3.21, 2.53, 3.44, 2.86, 2.14, 3.02, 2.63, 3.28, 2.22, 2.93, 2.69, 3.14, 2.37, 3.39, 2.76, 2.09, 3.01, 5.47, 4.68, 3.93,
    4.72, 3.18, 4.26, 3.69, 2.72, 3.91, 3.18, 4.22, 2.88, 3.54, 2.29, 3.79, 3.17, 2.84, 3.46, 2.41, 3.18, 2.71, 3.62, 2.93,
    2.66, 3.14, 2.21, 2.88, 2.47, 3.02, 2.69, 2.31, 5.18, 4.09, 4.51, 3.12, 3.96, 4.43, 2.68, 3.62, 4.07, 3.14, 3.86, 3.33,
    3.09, 3.74, 2.28, 3.38, 2.81, 3.18, 3.55, 2.56, 3.22, 2.84, 2.93, 2.34, 3.21, 2.59, 2.94, 2.47, 5.36, 4.82, 3.71, 4.31,
    3.28, 3.79, 3.93, 2.86, 3.39, 2.98, 3.12, 2.38, 3.46, 2.71, 3.06, 2.58, 3.18, 2.16, 2.97, 4.29, 3.04, 3.84, 3.12, 3.58,
    2.71, 2.12, 2.96, 2.34, 2.81, 1.96, 2.57, 3.08, 2.25, 2.66, 1.86, 2.44, 2.95, 2.29, 2.76, 2.07, 2.52, 2.88, 2.14, 2.63,
    2.31, 2.79, 1.94, 2.55, 2.19, 2.67, 2.06, 2.41, 2.83, 2.15, 2.54, 1.87, 2.43, 2.71, 2.19, 2.56, 1.97, 2.34, 2.67, 2.11,
    2.44, 1.99, 2.61, 2.23, 2.48, 1.92, 2.35, 2.67, 2.13, 2.39, 2.01, 2.53, 2.19, 2.34, 1.94, 2.28, 2.09, 2.22, 1.96, 2.13,
    2.89, 2.41, 2.72, 2.03, 2.58, 2.94, 2.24, 2.77, 2.15, 2.63, 3.05, 2.31, 2.86, 1.97, 2.57, 2.42, 2.77, 2.16, 2.64, 2.33,
    2.49, 2.86, 2.03, 2.61, 2.29, 2.74, 2.11, 2.52, 2.36, 2.67, 1.98, 2.43, 2.77, 2.19, 2.54, 2.04, 2.38, 2.61, 2.23, 2.45,
    2.07, 2.53, 2.27, 2.41, 1.95, 2.34, 2.48, 2.12, 2.27, 2.44, 2.01, 2.34, 2.18, 2.29, 2.02, 2.21, 2.11, 2.74, 2.52, 2.91,
    2.47, 2.84, 2.09, 2.69, 2.28, 2.76, 2.36, 2.94, 2.02, 2.59, 2.47, 2.83, 2.14, 2.61, 2.29, 2.74, 2.17, 2.51, 2.85, 2.33,
    2.61, 2.06, 2.47, 2.72, 2.22, 2.54, 1.97, 2.39, 2.64, 2.25, 2.48, 2.08, 2.54, 2.31, 2.15, 2.41, 1.97, 2.33, 2.21, 2.46,
    2.09, 2.36, 2.23, 2.01, 2.41, 2.14, 2.29, 1.93, 2.25, 2.11, 2.33, 2.02, 2.17, 2.73, 2.58, 2.84, 2.49, 2.64, 2.36, 2.72,
    2.49, 2.64, 2.36, 2.54, 2.41, 2.27, 2.49, 2.34, 2.19, 2.41, 2.26, 2.35, 2.09, 2.28, 2.18, 2.77, 2.62, 2.51, 2.44, 2.29,
]

IFD_CLOUD3 = [
    0.71, 0.83, 0.64, 0.91, 0.76, 0.58, 0.87, 0.69, 0.79, 0.93, 0.66, 0.82, 0.74, 0.89, 0.61, 0.85, 0.77, 0.95, 0.68, 0.81,
    0.88, 0.73, 0.92, 0.64, 0.84, 0.78, 0.96, 0.71, 0.86, 0.63, 0.90, 0.80, 0.75, 0.93, 0.84, 0.68, 0.89, 0.79, 0.95, 0.73,
    0.87, 0.77, 0.94, 0.82, 0.69, 0.91, 0.85, 0.74, 0.97, 0.81, 0.88, 0.72, 0.93, 0.84, 0.78, 0.95, 0.86, 0.91, 0.76, 0.89,
    0.92, 0.83, 0.96, 0.87, 0.67, 0.79, 0.57, 0.84, 0.72, 0.88, 0.63, 0.76, 0.91, 0.69, 0.81, 0.74, 0.94, 0.66, 0.86, 0.78,
    0.83, 0.71, 0.90, 0.76, 0.87, 0.64, 0.93, 0.80, 0.73, 0.89, 0.85, 0.68, 0.95, 0.78, 0.86, 0.92, 0.74, 0.88, 0.81, 0.96,
    0.84, 0.91, 0.79, 0.94, 0.87, 0.76, 0.92, 0.85, 0.97, 0.81, 0.89, 0.93, 0.78, 0.95, 0.86, 0.91, 0.99, 0.62, 0.77, 0.68,
    0.82, 0.73, 0.88, 0.67, 0.92, 0.78, 0.85, 0.71, 0.94, 0.80, 0.87, 0.75, 0.91, 0.83, 0.96, 0.79, 0.88, 0.93, 0.84, 0.90,
    0.86, 0.92, 0.80, 0.95, 0.89, 0.83, 0.97, 0.91, 0.74, 0.62, 0.85, 0.70, 0.80, 0.66, 0.92, 0.77, 0.88, 0.72, 0.84, 0.91,
    0.78, 0.89, 0.83, 0.94, 0.86, 0.91, 0.76, 0.93, 0.87, 0.95, 0.82, 0.90, 0.96, 0.85, 0.92, 0.88, 0.73, 0.65, 0.81, 0.70,
    0.87, 0.75, 0.92, 0.81, 0.89, 0.84, 0.95, 0.78, 0.91, 0.86, 0.93, 0.80, 0.97, 0.88, 0.94, 0.76, 0.83, 0.90, 0.79, 0.85,
    0.94, 0.89, 0.97, 0.92, 0.86, 0.98, 0.91, 0.95, 0.88, 0.96, 0.93, 0.90, 0.97, 0.85, 0.94, 0.99, 0.92, 0.96, 0.89, 0.95,
    0.93, 0.97, 0.90, 0.95, 0.99, 0.92, 0.96, 0.88, 0.94, 0.98, 0.91, 0.96, 0.93, 0.97, 0.95, 0.99, 0.92, 0.96, 0.94, 0.98,
    0.95, 0.97, 0.93, 0.98, 0.96, 0.94, 0.99, 0.95, 0.97, 0.93, 0.98, 0.96, 0.94, 0.97, 0.99, 0.95, 0.98, 0.96, 0.97, 0.98,
    0.91, 0.95, 0.88, 0.93, 0.97, 0.90, 0.94, 0.98, 0.87, 0.95, 0.92, 0.96, 0.89, 0.97, 0.93, 0.99, 0.91, 0.95, 0.97, 0.93,
    0.96, 0.92, 0.98, 0.94, 0.97, 0.91, 0.95, 0.99, 0.93, 0.96, 0.98, 0.94, 0.97, 0.92, 0.99, 0.95, 0.97, 0.94, 0.98, 0.96,
    0.97, 0.95, 0.99, 0.96, 0.94, 0.98, 0.96, 0.97, 0.95, 0.99, 0.97, 0.96, 0.98, 0.95, 0.97, 0.99, 0.96, 0.91, 0.94, 0.88,
    0.93, 0.90, 0.96, 0.92, 0.98, 0.89, 0.95, 0.97, 0.91, 0.94, 0.99, 0.93, 0.96, 0.90, 0.98, 0.94, 0.97, 0.92, 0.95, 0.99,
    0.94, 0.97, 0.92, 0.96, 0.99, 0.93, 0.98, 0.95, 0.97, 0.94, 0.96, 0.99, 0.95, 0.97, 0.93, 0.98, 0.96, 0.94, 0.99, 0.97,
    0.96, 0.98, 0.95, 0.97, 0.99, 0.96, 0.97, 0.98, 0.95, 0.99, 0.97, 0.96, 0.98, 0.92, 0.95, 0.90, 0.96, 0.93, 0.97, 0.94,
    0.95, 0.98, 0.94, 0.97, 0.96, 0.99, 0.95, 0.97, 0.98, 0.96, 0.97, 0.99, 0.96, 0.98, 0.97, 0.93, 0.96, 0.94, 0.97, 0.95,
]

X_TICKS = [0.8, 0.9, 1, 2, 3, 4, 5, 6, 7, 8, 9, 10, 20, 30, 40, 50, 60, 70, 80, 90,
           100, 200, 300, 400, 500, 600, 700, 800, 900, 1000]
X_DOMAIN = [0.7236, 1023]

PANELS = [
    ("L_cond", LC_COLS, LC_EXTRA, [LC_CLOUD, LC_CLOUD2, LC_CLOUD3], [-0.422, 18.639],
     [0, 2.5, 5, 7.5, 10, 12.5, 15, 17.5], ".1f", -75.3),
    ("L_uncond", LU_COLS, LU_EXTRA, [LU_CLOUD, LU_CLOUD2, LU_CLOUD3], [-0.192, 16.192],
     [0, 2, 4, 6, 8, 10, 12, 14, 16], "d", -54.7),
    ("IFD", IFD_COLS, IFD_EXTRA, [IFD_CLOUD, IFD_CLOUD2, IFD_CLOUD3], [0.1125, 2.393],
     [0.5, 1.0, 1.5, 2.0], ".1f", -58.4),
]
CLOUD_XS = [CLOUD_X, CLOUD2_X, CLOUD3_X]


def frame(cols, extra, clouds):
    xs, ys = [], []
    for i, col in enumerate(cols, start=1):
        xs += [i] * len(col)
        ys += col
    for i, col in enumerate(extra, start=6):
        xs += [i] * len(col)
        ys += col
    for cx, cy in zip(CLOUD_XS, clouds):
        for x, y in zip(cx, cy):
            xs.append(x)
            ys.append(y)
    return pd.DataFrame({"x": xs, "y": ys})


MAJOR = "indexof([1, 10, 100, 1000], datum.value) >= 0"
LABELS = ("datum.value == 1 ? '10⁰' : datum.value == 10 ? '10¹' : "
          "datum.value == 100 ? '10²' : datum.value == 1000 ? '10³' : ''")

W, H = 522, 452
COLOR = "#4682b4"

charts = []
for name, cols, extra, clouds, ydom, yticks, yfmt, tx in PANELS:
    df = frame(cols, extra, clouds)
    c = alt.Chart(df).mark_circle(
        size=12, fill=COLOR, stroke=COLOR, strokeWidth=1.6,
        fillOpacity=0.45, strokeOpacity=0.45,
    ).encode(
        x=alt.X("x:Q",
                scale=alt.Scale(type="log", domain=X_DOMAIN, nice=False),
                axis=alt.Axis(values=X_TICKS, labelExpr=LABELS,
                              tickSize={"condition": {"test": MAJOR, "value": 6}, "value": 3.4},
                              tickWidth={"condition": {"test": MAJOR, "value": 1.3}, "value": 1.0},
                              labelPadding=13.5, labelFlush=False, labelOverlap=False,
                              title="Response length", titleY=64,
                              titleBaseline="alphabetic")),
        y=alt.Y("y:Q",
                scale=alt.Scale(domain=ydom, nice=False, zero=False),
                axis=alt.Axis(values=yticks, format=yfmt, tickSize=6, tickWidth=1.3,
                              labelPadding=9, labelFlush=False, labelOverlap=False,
                              title=name, titleX=tx, titleY=H / 2, titleAngle=270,
                              titleBaseline="alphabetic")),
    ).properties(width=W, height=H)
    charts.append(c)

chart = alt.hconcat(*charts, spacing=116, bounds="flush").properties(
    padding={"left": 13, "top": 11, "right": 5, "bottom": 5}
).configure(font="DejaVu Sans").configure_view(
    stroke="black", strokeWidth=1.3
).configure_axis(
    grid=False, domainColor="black", domainWidth=1.3, tickColor="black",
    labelColor="black", labelFont="DejaVu Sans", labelFontSize=20,
    titleColor="black", titleFont="DejaVu Sans", titleFontSize=20,
    titleFontWeight="normal",
)

chart.save("out.html", embed_options={"renderer": "svg", "actions": False})
